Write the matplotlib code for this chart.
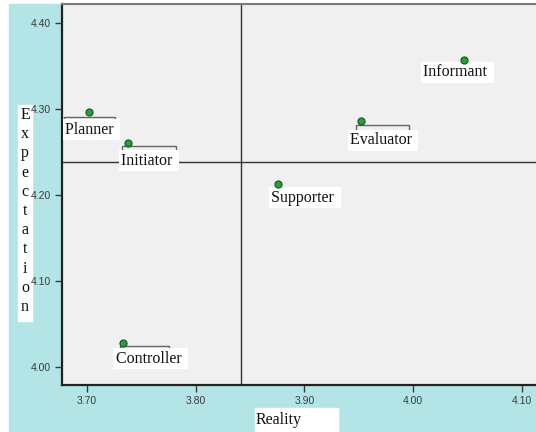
import matplotlib
matplotlib.use("Agg")
import matplotlib.pyplot as plt
from matplotlib.patches import Rectangle

# -------------------------
# Data
# -------------------------

roles = ["Planner", "Initiator", "Controller", "Informant", "Evaluator", "Supporter"]
reality = [3.702, 3.738, 3.733, 4.047, 3.952, 3.876]
expectation = [4.297, 4.261, 4.028, 4.357, 4.286, 4.213]

x_ticks = [3.70, 3.80, 3.90, 4.00, 4.10]
y_ticks = [4.00, 4.10, 4.20, 4.30, 4.40]

x_ref = 3.842
y_ref = 4.239

# label offsets from each point (pixels) and leader brackets (pixels, or None)
label_dx = [-24, -7, -7, -41, -11, -7]
label_dy = [-18, -18, -16, -12, -19, -14]
brackets = [(-25, 26, -5), (-6, 48, -3), (-3, 46, -3), None, (-5, 48, -4), None]

# -------------------------
# Figure
# -------------------------

W, H = 536, 432
fig = plt.figure(figsize=(W / 100, H / 100), dpi=100)
fig.patch.set_facecolor("white")

cyan = "#b3e5e7"
fig.patches.append(Rectangle((9 / W, 0), 1 - 9 / W, 1 - 4 / H,
                             transform=fig.transFigure, color=cyan, zorder=-10))

ax = fig.add_axes([62 / W, (H - 385) / H, 1 - 62 / W, (385 - 4) / H])
ax.set_zorder(1)
ax.set_facecolor("#f0f0f0")

ax.set_xlim(3.677, 4.113)
ax.set_ylim(3.9787, 4.4225)

ax.axvline(x_ref, color="#333333", lw=1.0, zorder=1)
ax.axhline(y_ref, color="#333333", lw=1.0, zorder=1)

ax.scatter(reality, expectation, s=26, color="#22a33a",
           edgecolor="#1d4d22", linewidth=0.8, zorder=4)

ax.set_xticks(x_ticks)
ax.set_yticks(y_ticks)
ax.set_xticklabels(["%.2f" % v for v in x_ticks])
ax.set_yticklabels(["%.2f" % v for v in y_ticks])
ax.tick_params(direction="out", length=5, width=1, colors="#3a3a3a",
               labelsize=7.5, pad=3)
for lab in ax.get_xticklabels() + ax.get_yticklabels():
    lab.set_family("Liberation Sans")

for side in ["left", "bottom"]:
    ax.spines[side].set_color("#222222")
    ax.spines[side].set_linewidth(1.6)
ax.spines["top"].set_color("#7a7a7a")
ax.spines["top"].set_linewidth(1.5)
ax.spines["right"].set_visible(False)

# -------------------------
# Labels
# -------------------------

fig.canvas.draw()
to_px = ax.transData
to_data = ax.transData.inverted()

for i, name in enumerate(roles):
    px, py = to_px.transform((reality[i], expectation[i]))
    if brackets[i] is not None:
        b0, b1, by = brackets[i]
        xs = [px + b0, px + b0, px + b1, px + b1]
        ys = [py + by - 4, py + by, py + by, py + by - 4]
        pts = to_data.transform(list(zip(xs, ys)))
        ax.plot(pts[:, 0], pts[:, 1], color="#666666", lw=1.0, zorder=2,
                solid_joinstyle="miter")
    ax.annotate(name + " ", (reality[i], expectation[i]),
                xytext=(label_dx[i], label_dy[i]), textcoords="offset pixels",
                ha="left", va="center", fontsize=11.5, family="Liberation Serif",
                color="#111111", zorder=3,
                bbox=dict(boxstyle="square,pad=0.15", fc="white", ec="none"))

# axis titles in white boxes
fig.patches.append(Rectangle((18 / W, (H - 321) / H), 14 / W, 216 / H,
                             transform=fig.transFigure, color="white", zorder=-5))
fig.text(25 / W, (H - 211) / H, "\n".join("Expectation"), ha="center",
         va="center", fontsize=11.5, family="Liberation Serif",
         linespacing=1.27, color="#111111")

fig.patches.append(Rectangle((255 / W, 0), 83 / W, 24 / H,
                             transform=fig.transFigure, color="white", zorder=-5))
fig.text(256 / W, (H - 420) / H, "Reality", ha="left", va="center",
         fontsize=11.5, family="Liberation Serif", color="#111111")

fig.savefig("out.png", dpi=100)
